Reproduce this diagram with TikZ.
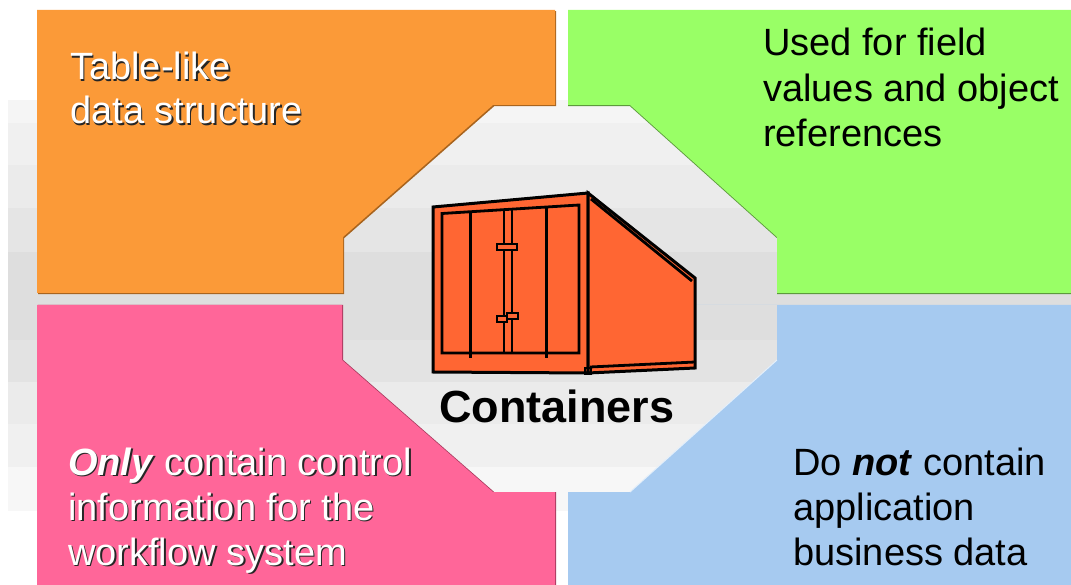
\documentclass[tikz,border=0pt]{standalone}
\usepackage{fontspec}
\setmainfont{Liberation Sans}
\begin{document}
\begin{tikzpicture}[x=1pt,y=-1pt,
  lbl/.style={anchor=base west, inner sep=0pt, font=\fontsize{38}{44}\selectfont},
  emb/.style={lbl, text=white},
  embsh/.style={lbl, text=black!85},
  cont/.style={draw=black, line width=3pt, line join=miter, fill=contfill},
  contline/.style={draw=black, line width=2.8pt}
]
\definecolor{qorange}{HTML}{FB9A38}
\definecolor{qorangedk}{HTML}{A8641E}
\definecolor{qgreen}{HTML}{99FF66}
\definecolor{qgreendk}{HTML}{5C9A3C}
\definecolor{qpink}{HTML}{FF6699}
\definecolor{qpinkdk}{HTML}{A83A5E}
\definecolor{qblue}{HTML}{A6CAF0}
\definecolor{contfill}{HTML}{FF6633}

\useasboundingbox (0,0) rectangle (1071,585);
\clip (0,0) rectangle (1071,585);

% banded grey backdrop (bands overlap slightly to avoid seams)
\foreach \y/\g in {100/4,123/6,165/8,208/10,252/13,296/13,340/11,382/8,424/6,467/3}
  \fill[black!\g] (8,\y) rectangle (1071,\y+44);

% four quadrants with a slim shadow edge
\fill[qorangedk] ([shift={(1.2,1.2)}]37,10) -- ++(518,0) -- ++(0,95) -- ++(-62,0) -- ++(-150,132) -- ++(0,56) -- ++(-306,0) -- cycle;
\fill[qorange] (37,10) -- (555,10) -- (555,105) -- (493,105) -- (343,237) -- (343,293) -- (37,293) -- cycle;

\fill[qgreendk] ([shift={(0,1.2)}]568,10) -- ++(512,0) -- ++(0,283) -- ++(-303,0) -- ++(0,-56) -- ++(-147,-132) -- ++(-62,0) -- cycle;
\fill[qgreen] (568,10) -- (1080,10) -- (1080,293) -- (777,293) -- (777,237) -- (630,105) -- (568,105) -- cycle;

\fill[qpinkdk] ([shift={(1.2,0)}]37,305) -- ++(305,0) -- ++(0,55) -- ++(151,132) -- ++(62,0) -- ++(0,98) -- ++(-518,0) -- cycle;
\fill[qpink] (37,305) -- (342,305) -- (342,360) -- (493,492) -- (555,492) -- (555,590) -- (37,590) -- cycle;

\fill[qblue] (568,305) -- (1080,305) -- (1080,590) -- (568,590) -- (568,492) -- (630,492) -- (777,360) -- (777,305) -- cycle;
\draw[white!70!qblue, line width=1pt] (630,492) -- (777,360);

% shipping container
\path[cont] (433,207) -- (588,193) -- (588,373) -- (433,372) -- cycle;
\path[cont] (588,193) -- (695,278) -- (695,368) -- (588,373) -- cycle;
\draw[contline] (591,199) -- (692,281);
\draw[contline] (590,367) -- (695,362);
\draw[contline, line width=1.6pt] (585,368) rectangle (591,374);
\draw[contline] (442,213.5) -- (579,205) -- (579,353) -- (442,353) -- cycle;
\draw[contline] (504,209.7) -- (504,353);
\draw[contline] (512,209.2) -- (512,353);
\draw[contline] (470.7,211.7) -- (470.7,358);
\draw[contline] (546.7,207) -- (546.7,358);
\path[cont, line width=2pt] (497,244.5) rectangle (517,250);
\path[cont, line width=2pt] (497,316.5) rectangle (507,322);
\path[cont, line width=2pt] (507,313.5) rectangle (518,319);

\node[anchor=base, inner sep=0pt, font=\bfseries\fontsize{45}{50}\selectfont] (title) at (557,422) {Containers};

% orange block text
\node[embsh] (o1s) at (71.6,81.6) {Table-like};
\node[emb]   (o1)  at (70,80) {Table-like};
\node[embsh] (o2s) at (71.6,125.6) {data structure};
\node[emb]   (o2)  at (70,124) {data structure};

% green block text
\node[lbl] (g1) at (763,56) {Used for field};
\node[lbl] (g2) at (763,102) {values and object};
\node[lbl] (g3) at (763,147) {references};

% pink block text
\node[embsh] (p1s) at (69.6,476.6) {\textbf{\textit{Only}} contain control};
\node[emb]   (p1)  at (68,475) {\textbf{\textit{Only}} contain control};
\node[embsh] (p2s) at (69.6,521.6) {information for the};
\node[emb]   (p2)  at (68,520) {information for the};
\node[embsh] (p3s) at (69.6,566.6) {workflow system};
\node[emb]   (p3)  at (68,565) {workflow system};

% blue block text
\node[lbl] (b1) at (793,475) {Do \textbf{\textit{not}} contain};
\node[lbl] (b2) at (793,520) {application};
\node[lbl] (b3) at (793,565) {business data};
\end{tikzpicture}
\end{document}
